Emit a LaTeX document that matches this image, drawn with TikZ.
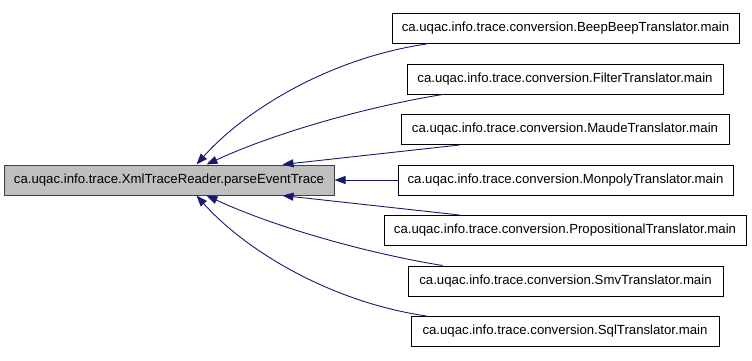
\documentclass[tikz,border=0pt]{standalone}
\usepackage{fontspec}
\setmainfont{Liberation Sans}
\usetikzlibrary{arrows.meta}
\definecolor{edgeblue}{HTML}{191970}
\definecolor{grey25}{HTML}{404040}
\definecolor{grey75}{HTML}{BFBFBF}
\tikzset{
  fn/.style={draw=black, fill=white, line width=1pt, minimum height=30pt,
    inner sep=0pt, font=\fontsize{13.2}{15}\selectfont},
  focus/.style={fn, draw=grey25, fill=grey75},
  edge/.style={draw=edgeblue, line width=0.9pt,
    -{Triangle[length=11pt,width=8pt]}}
}
\begin{document}
\begin{tikzpicture}[x=1pt,y=-1pt]
\useasboundingbox (0,0) rectangle (752,360);
% the function and the functions that call it
\node[focus, minimum width=330pt] (main) at (169,180) {ca.uqac.info.trace.XmlTraceReader.parseEventTrace};
\node[fn, minimum width=347pt] (beep) at (565.5,28.5) {ca.uqac.info.trace.conversion.BeepBeepTranslator.main};
\node[fn, minimum width=316pt] (filter) at (565,79) {ca.uqac.info.trace.conversion.FilterTranslator.main};
\node[fn, minimum width=328pt] (maude) at (565,129.5) {ca.uqac.info.trace.conversion.MaudeTranslator.main};
\node[fn, minimum width=335pt] (monpoly) at (565.5,180) {ca.uqac.info.trace.conversion.MonpolyTranslator.main};
\node[fn, minimum width=362pt] (prop) at (565,230.5) {ca.uqac.info.trace.conversion.PropositionalTranslator.main};
\node[fn, minimum width=315pt] (smv) at (565.5,281) {ca.uqac.info.trace.conversion.SmvTranslator.main};
\node[fn, minimum width=308pt] (sql) at (565,331.5) {ca.uqac.info.trace.conversion.SqlTranslator.main};
% call edges
\draw[edge] ([xshift=35pt]beep.south west) .. controls (330,58) and (245,110) .. ([xshift=193pt]main.north west);
\draw[edge] ([xshift=36pt]filter.south west) .. controls (360,108) and (270,135) .. ([xshift=203pt]main.north west);
\draw[edge] ([xshift=59pt]maude.south west) -- ([xshift=279pt]main.north west);
\draw[edge] (monpoly.west) -- (main.east);
\draw[edge] ([xshift=76pt]prop.north west) -- ([xshift=279pt]main.south west);
\draw[edge] ([xshift=35pt]smv.north west) .. controls (360,252) and (270,225) .. ([xshift=203pt]main.south west);
\draw[edge] ([xshift=16pt]sql.north west) .. controls (330,302) and (245,250) .. ([xshift=193pt]main.south west);
\end{tikzpicture}
\end{document}
